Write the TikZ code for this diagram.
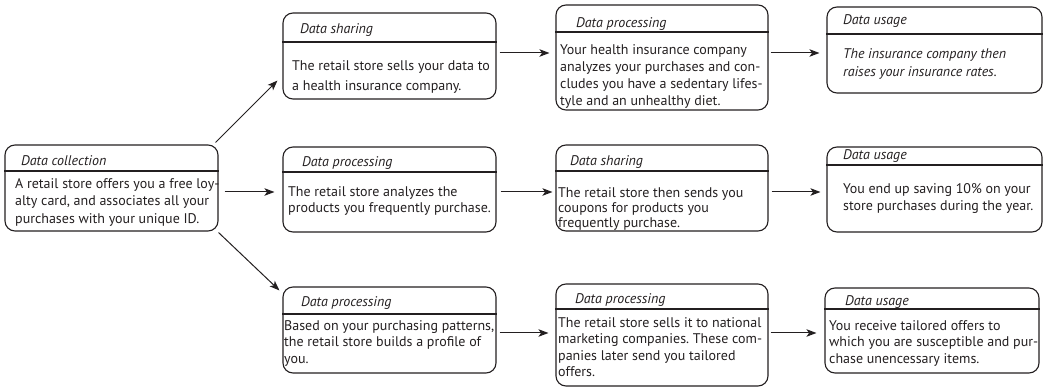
\documentclass[tikz,border=0pt]{standalone}
\usepackage{fontspec}
\setmainfont{PT Sans}
\usetikzlibrary{arrows.meta}
\definecolor{ink}{HTML}{231F20}
\frenchspacing
\newcommand\bsz{14}
\newcommand\mkbox[6]{%
  \node[box, minimum width={(#4-#2)*1pt}, minimum height={(#5-#3)*1pt}] (#1) at ({(#2+#4)/2},{(#3+#5)/2}) {};
  \coordinate (#1hy) at (0,#6);
  \draw[sepline] (#1.west |- #1hy) -- (#1.east |- #1hy);}
\newcommand\mkhead[4]{\node[hdr] (#1h) at (#2,#3) {#4};}
\newcommand\mkbody[6]{\node[body, font={#6\fontsize{\bsz}{#4}\selectfont}] (#1b) at (#2,{#3-0.7*#4}) {\strut #5};}
\begin{document}
\begin{tikzpicture}[x=1pt,y=-1pt,
  box/.style={draw=ink, line width=1.1pt, rounded corners=10pt, inner sep=0pt},
  sepline/.style={draw=ink, line width=1.1pt},
  hdr/.style={anchor=base west, inner sep=0pt, text=ink, font=\itshape\fontsize{\bsz}{17}\selectfont},
  body/.style={anchor=north west, inner sep=0pt, align=left, text=ink},
  arr/.style={draw=ink, line width=1pt, -{Stealth[length=10pt,width=7.5pt,inset=2.5pt]}}]
\useasboundingbox (0,0) rectangle (1045,387);
% boxes
\mkbox{c}{5}{145}{218}{231}{171}
\mkbox{ta}{283}{13}{496}{99}{42}
\mkbox{tb}{556}{5}{768}{110}{32}
\mkbox{tc}{827}{7}{1042}{93}{34}
\mkbox{ma}{283}{147}{496}{232}{172}
\mkbox{mb}{556}{145}{768}{231}{171}
\mkbox{mc}{827}{147}{1042}{232}{165}
\mkbox{ba}{283}{287}{496}{373}{314}
\mkbox{bb}{556}{284}{768}{386}{309}
\mkbox{bc}{825}{288}{1039}{373}{309}
% headers
\mkhead{c}{21}{166}{Data collection}
\mkhead{ta}{300}{34}{Data sharing}
\mkhead{tb}{576}{27.5}{Data processing}
\mkhead{tc}{843}{24.5}{Data usage}
\mkhead{ma}{302}{167}{Data processing}
\mkhead{mb}{570}{166}{Data sharing}
\mkhead{mc}{843}{160}{Data usage}
\mkhead{ba}{301}{307}{Data processing}
\mkhead{bb}{575}{304}{Data processing}
\mkhead{bc}{845}{306}{Data usage}
% bodies
\mkbody{c}{15}{188.5}{17.3}{A retail store offers you a free loy-\\alty card, and associates all your\\purchases with your unique ID.}{}
\mkbody{ta}{292}{70.5}{19.5}{The retail store sells your data to\\a health insurance company.}{}
\mkbody{tb}{560}{54}{17}{Your health insurance company\\analyzes your purchases and con-\\cludes you have a sedentary lifes-\\tyle and an unhealthy diet.}{}
\mkbody{tc}{843}{58.5}{18}{The insurance company then\\raises your insurance rates.}{\itshape}
\mkbody{ma}{288}{196}{16.7}{The retail store analyzes the\\products you frequently purchase.}{}
\mkbody{mb}{558}{197}{15}{The retail store then sends you\\coupons for products you\\frequently purchase.}{}
\mkbody{mc}{843}{193.5}{17}{You end up saving 10\% on your\\store purchases during the year.}{}
\mkbody{ba}{284}{330}{16.5}{Based on your purchasing patterns,\\the retail store builds a profile of\\you.}{}
\mkbody{bb}{558}{327}{16.5}{The retail store sells it to national\\marketing companies. These com-\\panies later send you tailored\\offers.}{}
\mkbody{bc}{829}{330}{16.5}{You receive tailored offers to\\which you are susceptible and pur-\\chase unencessary items.}{}
% arrow levels
\coordinate (yt) at (0,53);
\coordinate (ym) at (0,192);
\coordinate (yb) at (0,333);
% connectors
\draw[arr] ([xshift=-3pt,yshift=2pt]c.north east) -- ([xshift=-5pt,yshift=19pt]ta.south west);
\draw[arr] ([xshift=6pt]c.east |- ym) -- ([xshift=-8pt]ma.west |- ym);
\draw[arr] ([xshift=0pt,yshift=-1pt]c.south east) -- ([xshift=-3pt,yshift=-4pt]ba.north west);
\draw[arr] ([xshift=3pt]ta.east |- yt) -- ([xshift=-6pt]tb.west |- yt);
\draw[arr] ([xshift=2pt]tb.east |- yt) -- ([xshift=-7pt]tc.west |- yt);
\draw[arr] ([xshift=4pt]ma.east |- ym) -- ([xshift=-3pt]mb.west |- ym);
\draw[arr] ([xshift=3pt]mb.east |- ym) -- ([xshift=-6pt]mc.west |- ym);
\draw[arr] ([xshift=3pt]ba.east |- yb) -- ([xshift=-7pt]bb.west |- yb);
\draw[arr] ([xshift=2pt]bb.east |- yb) -- ([xshift=-8pt]bc.west |- yb);
\end{tikzpicture}
\end{document}
